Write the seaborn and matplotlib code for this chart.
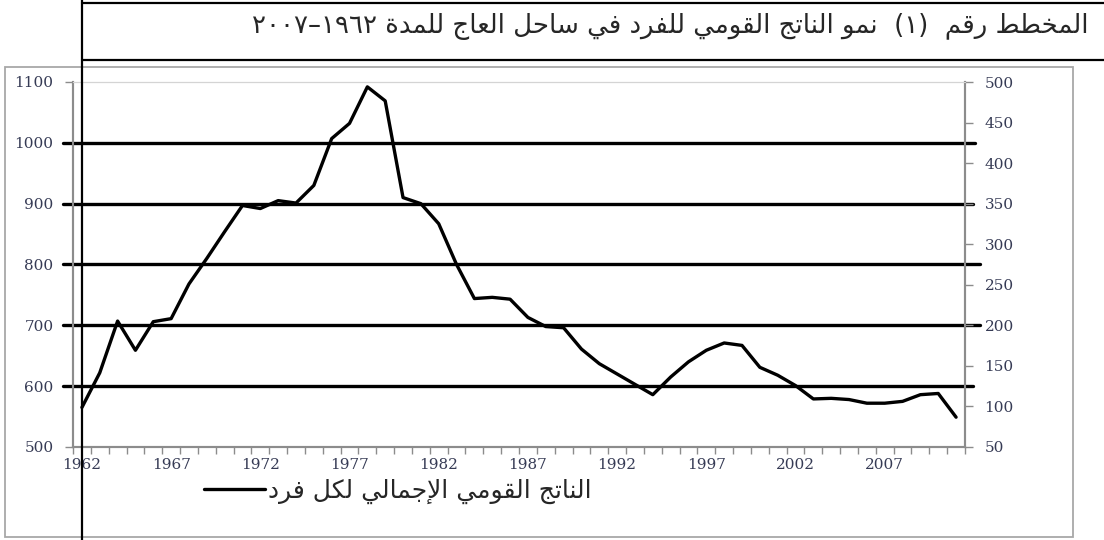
import re

import matplotlib.pyplot as plt
import seaborn as sns
from matplotlib.lines import Line2D
from matplotlib.patches import Rectangle

years = list(range(1962, 2012))
gdp_per_capita = [
    565, 622, 707, 659, 706, 711, 768, 810, 854, 897,
    892, 905, 901, 930, 1007, 1032, 1092, 1069, 910, 900,
    867, 800, 744, 746, 743, 713, 698, 696, 661, 637,
    620, 603, 586, 615, 640, 659, 671, 667, 631, 618,
    601, 579, 580, 578, 572, 572, 575, 586, 588, 549,
]
left_ticks = [500, 600, 700, 800, 900, 1000, 1100]
right_ticks = [50, 100, 150, 200, 250, 300, 350, 400, 450, 500]
year_labels = [1962, 1967, 1972, 1977, 1982, 1987, 1992, 1997, 2002, 2007]
ruled_levels = [1000, 900, 800, 700, 600]
ruled_right_ends = [975, 973, 980, 980, 973]

title_text = "المخطط رقم  (١)  نمو الناتج القومي للفرد في ساحل العاج للمدة ١٩٦٢–٢٠٠٧"
legend_text = "الناتج القومي الإجمالي لكل فرد"

# matplotlib has no Arabic shaping: map letters to presentation forms, then lay out right-to-left
FORMS = {
    "\u0627": (0xFE8D, 0xFE8E), "\u0623": (0xFE83, 0xFE84), "\u0625": (0xFE87, 0xFE88),
    "\u062F": (0xFEA9, 0xFEAA), "\u0631": (0xFEAD, 0xFEAE), "\u0648": (0xFEED, 0xFEEE),
    "\u0629": (0xFE93, 0xFE94),
    "\u0628": (0xFE8F, 0xFE90, 0xFE91, 0xFE92), "\u062A": (0xFE95, 0xFE96, 0xFE97, 0xFE98),
    "\u062C": (0xFE9D, 0xFE9E, 0xFE9F, 0xFEA0), "\u062D": (0xFEA1, 0xFEA2, 0xFEA3, 0xFEA4),
    "\u062E": (0xFEA5, 0xFEA6, 0xFEA7, 0xFEA8), "\u0633": (0xFEB1, 0xFEB2, 0xFEB3, 0xFEB4),
    "\u0637": (0xFEC1, 0xFEC2, 0xFEC3, 0xFEC4), "\u0639": (0xFEC9, 0xFECA, 0xFECB, 0xFECC),
    "\u0641": (0xFED1, 0xFED2, 0xFED3, 0xFED4), "\u0642": (0xFED5, 0xFED6, 0xFED7, 0xFED8),
    "\u0643": (0xFED9, 0xFEDA, 0xFEDB, 0xFEDC), "\u0644": (0xFEDD, 0xFEDE, 0xFEDF, 0xFEE0),
    "\u0645": (0xFEE1, 0xFEE2, 0xFEE3, 0xFEE4), "\u0646": (0xFEE5, 0xFEE6, 0xFEE7, 0xFEE8),
    "\u064A": (0xFEF1, 0xFEF2, 0xFEF3, 0xFEF4),
}
LAM_ALEF = {"\u0627": (0xFEFB, 0xFEFC), "\u0623": (0xFEF7, 0xFEF8), "\u0625": (0xFEF9, 0xFEFA)}


def shape(text):
    units, i = [], 0
    while i < len(text):
        if text[i] == "\u0644" and i + 1 < len(text) and text[i + 1] in LAM_ALEF:
            units.append(("LA", text[i + 1]))
            i += 2
        else:
            units.append(text[i])
            i += 1

    def dual(u):
        return isinstance(u, str) and u in FORMS and len(FORMS[u]) == 4

    def arabic(u):
        return isinstance(u, tuple) or u in FORMS

    out = []
    for k, u in enumerate(units):
        prev = units[k - 1] if k else None
        nxt = units[k + 1] if k + 1 < len(units) else None
        jp = prev is not None and dual(prev)
        if isinstance(u, tuple):
            out.append(chr(LAM_ALEF[u[1]][1 if jp else 0]))
            continue
        if u not in FORMS:
            out.append(u)
            continue
        f = FORMS[u]
        jn = len(f) == 4 and nxt is not None and arabic(nxt)
        out.append(chr(f[3 if jp and jn else 1 if jp else 2 if jn else 0]))
    tokens = re.findall(r"[0-9\u0660-\u0669]+|.", "".join(out))
    mirror = {"(": ")", ")": "("}
    return "".join(t if t[0].isdigit() else mirror.get(t, t) for t in reversed(tokens))


W, H = 1104, 540


def fx(x):
    return x / W


def fy(y):
    return 1 - y / H


sns.set_theme(style="white")
plt.rcParams["font.family"] = ["DejaVu Sans"]

axis_grey = "#8c8c8c"
label_col = "#363b55"

fig = plt.figure(figsize=(W / 100, H / 100), dpi=100)
fig.add_artist(Rectangle((fx(5), fy(536.5)), fx(1073) - fx(5), fy(67) - fy(536.5),
                         transform=fig.transFigure, fill=False, edgecolor="#a8a8a8", lw=1.3))

ax = fig.add_axes([fx(73), fy(447), fx(965) - fx(73), fy(82) - fy(447)])
sns.lineplot(x=years, y=gdp_per_capita, ax=ax, color="black", lw=2.4, zorder=5,
             label=shape(legend_text))

for level, right_end in zip(ruled_levels, ruled_right_ends):
    ax.axhline(level, xmin=(63 - 73) / 892, xmax=(right_end - 73) / 892,
               color="black", lw=2.4, clip_on=False, zorder=4)

ax.set_xlim(1961.5, 2011.5)
ax.set_ylim(500, 1100)
ax.set_yticks(left_ticks)
ax.set_xticks(year_labels)
ax.set_xticks([y - 0.5 for y in years] + [2011.5], minor=True)
ax.tick_params(axis="x", which="major", length=0, pad=8, labelsize=11, labelcolor=label_col)
ax.tick_params(axis="x", which="minor", length=5, width=1, color=axis_grey, bottom=True)
ax.tick_params(axis="y", length=6, width=1, color=axis_grey, left=True, pad=8,
               labelsize=11, labelcolor=label_col)
for lab in ax.get_xticklabels() + ax.get_yticklabels():
    lab.set_family("DejaVu Serif")

ax2 = ax.twinx()
ax2.set_ylim(50, 500)
ax2.set_yticks(right_ticks)
ax2.tick_params(axis="y", length=6, width=1, color=axis_grey, right=True, pad=8,
                labelsize=11, labelcolor=label_col)
for lab in ax2.get_yticklabels():
    lab.set_family("DejaVu Serif")

for a in (ax, ax2):
    for side in ("left", "right", "bottom"):
        a.spines[side].set_color(axis_grey)
        a.spines[side].set_linewidth(1.5)
    a.spines["top"].set_color("#d4d4d4")
    a.spines["top"].set_linewidth(0.8)

ax.legend(loc="center left", bbox_to_anchor=(fx(204), fy(491)), bbox_transform=fig.transFigure,
          frameon=False, fontsize=18, handlelength=2.45, handletextpad=0.1,
          borderpad=0, borderaxespad=0)

# table rules framing the figure caption
for x0, y0, x1, y1 in [(82, 0, 82, 540), (82, 3, 1104, 3), (82, 59.5, 1104, 59.5)]:
    fig.add_artist(Line2D([fx(x0), fx(x1)], [fy(y0), fy(y1)], transform=fig.transFigure,
                          color="black", lw=1.6, zorder=10))

fig.text(fx(1088), fy(27), shape(title_text), ha="right", va="center", fontsize=18.7,
         family="DejaVu Sans")

fig.savefig("out.png", dpi=100)
